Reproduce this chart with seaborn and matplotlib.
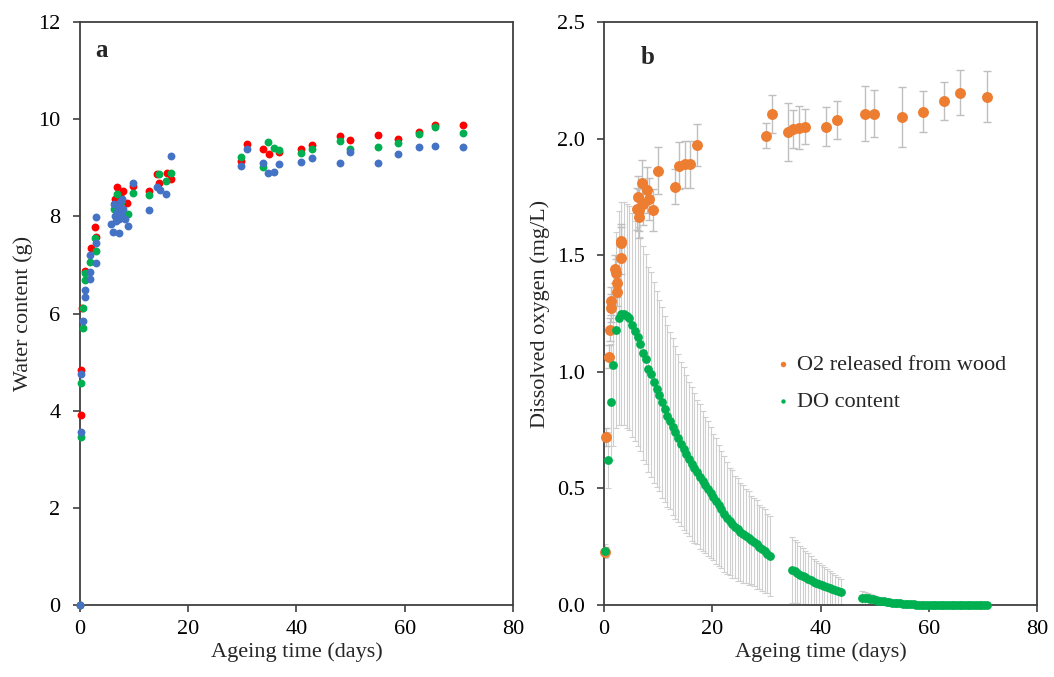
import matplotlib
matplotlib.use("Agg")
import matplotlib.pyplot as plt
import seaborn as sns
import pandas as pd

# ---------------- Panel a: water content (g) ----------------
red_days = [0, 0.2, 0.2, 0.4, 0.9, 2.0, 2.8, 3.0, 6.8, 7.9, 8.7, 6.5, 7.3, 9.8, 12.8, 14.2, 14.6,
            16.0, 16.8, 29.8, 30.8, 33.8, 35.0, 36.8, 40.8, 42.9, 48.0, 49.9, 55.0, 58.8, 62.7, 65.6, 70.8]
red_vals = [0, 4.83, 3.91, 6.11, 6.87, 7.35, 7.78, 7.57, 8.6, 8.52, 8.27, 8.35, 8.45, 8.62, 8.52, 8.87, 8.68,
            8.89, 8.77, 9.14, 9.5, 9.38, 9.28, 9.32, 9.38, 9.47, 9.65, 9.57, 9.67, 9.59, 9.73, 9.88, 9.88]

green_days = [0, 0.2, 0.2, 0.6, 0.6, 0.9, 0.9, 1.8, 2.8, 3.0, 6.8, 8.9, 6.2, 7.5, 9.8, 12.8, 14.6, 16.8,
              15.9, 29.8, 33.8, 34.8, 35.8, 36.8, 40.8, 42.9, 48.0, 49.9, 55.0, 58.8, 62.7, 65.6, 70.8]
green_vals = [0, 4.57, 3.46, 6.11, 5.7, 6.83, 6.69, 7.06, 7.55, 7.28, 8.47, 8.05, 8.15, 8.3, 8.48, 8.44, 8.87, 8.89,
              8.72, 9.22, 9.01, 9.53, 9.4, 9.36, 9.3, 9.38, 9.55, 9.38, 9.42, 9.52, 9.69, 9.84, 9.71]

blue_days = [0, 0.2, 0.2, 0.6, 1.0, 0.9, 1.8, 1.8, 1.8, 3.0, 3.0, 3.0, 5.7, 6.1, 6.5, 6.8, 7.0, 7.2, 7.4,
             7.6, 8.0, 8.3, 8.8, 6.3, 7.8, 6.6, 7.2, 9.8, 12.8, 14.2, 14.8, 15.9, 16.8, 29.8, 30.8, 33.8,
             34.8, 35.8, 36.8, 40.8, 42.9, 48.0, 49.9, 55.0, 58.8, 62.7, 65.6, 70.8]
blue_vals = [0, 4.75, 3.56, 5.84, 6.48, 6.34, 6.85, 6.72, 7.2, 7.45, 7.98, 7.04, 7.84, 7.67, 8.0, 8.1, 8.2, 7.65, 8.3,
             8.05, 8.15, 7.95, 7.8, 8.25, 8.35, 7.9, 7.95, 8.68, 8.13, 8.6, 8.54, 8.46, 9.24, 9.03, 9.38, 9.1,
             8.89, 8.91, 9.07, 9.12, 9.2, 9.1, 9.32, 9.1, 9.28, 9.42, 9.44, 9.42]

# ---------------- Panel b: O2 released from wood ----------------
o2_days = [0.2, 0.4, 0.9, 1.1, 1.3, 1.3, 2.0, 2.3, 2.4, 2.4, 3.1, 3.1, 3.1, 6.1, 6.3, 6.5, 6.5, 7.0, 7.2, 7.9,
           8.3, 9.0, 10.0, 13.1, 13.9, 15.0, 15.8, 17.1, 29.9, 31.0, 34.0, 35.0, 36.0, 37.2, 41.0, 43.0,
           48.2, 49.9, 55.1, 58.9, 62.8, 65.8, 70.8]
o2_vals = [0.227, 0.72, 1.065, 1.18, 1.305, 1.274, 1.442, 1.425, 1.382, 1.343, 1.49, 1.553, 1.562, 1.70, 1.75,
           1.665, 1.695, 1.81, 1.72, 1.78, 1.74, 1.695, 1.863, 1.794, 1.884, 1.89, 1.89, 1.974, 2.013, 2.107,
           2.03, 2.043, 2.047, 2.052, 2.052, 2.08, 2.107, 2.107, 2.094, 2.116, 2.163, 2.197, 2.18]
o2_err = [0.02, 0.04, 0.05, 0.05, 0.06, 0.06, 0.06, 0.06, 0.06, 0.06, 0.07, 0.07, 0.07, 0.09, 0.09, 0.09, 0.09,
          0.1, 0.09, 0.1, 0.09, 0.09, 0.1, 0.075, 0.1, 0.1, 0.1, 0.09, 0.054, 0.082, 0.124, 0.082, 0.093, 0.074,
          0.084, 0.082, 0.117, 0.1, 0.129, 0.087, 0.082, 0.097, 0.11]

# ---------------- Panel b: DO content ----------------
do_days = [0.2, 0.7, 1.2, 1.7, 2.2, 2.7, 3.2, 3.7, 4.2, 4.7, 5.2, 5.7, 6.2, 6.7, 7.2, 7.7, 8.2, 8.7, 9.2, 9.7,
           10.2, 10.7, 11.2, 11.7, 12.2, 12.7, 13.2, 13.7, 14.2, 14.7, 15.2, 15.7, 16.2, 16.7, 17.2, 17.7, 18.2,
           18.7, 19.2, 19.7, 20.2, 20.7, 21.2, 21.7, 22.2, 22.7, 23.2, 23.7, 24.2, 24.7, 25.2, 25.7, 26.2, 26.7,
           27.2, 27.7, 28.2, 28.7, 29.2, 29.7, 30.2, 30.7,
           34.7, 35.2, 35.7, 36.2, 36.7, 37.2, 37.7, 38.2, 38.7, 39.2, 39.7, 40.2, 40.7, 41.2, 41.7, 42.2, 42.7,
           43.2, 43.7,
           47.7, 48.2, 48.7, 49.2, 49.7, 50.2, 50.7, 51.2, 51.7, 52.2, 52.7, 53.2, 53.7, 54.2, 54.7, 55.2, 55.7,
           56.2, 56.7, 57.2, 57.7, 58.2, 58.7, 59.2, 59.7, 60.2, 60.7, 61.2, 61.7, 62.2, 62.7, 63.2, 63.7, 64.2,
           64.7, 65.2, 65.7, 66.2, 66.7, 67.2, 67.7, 68.2, 68.7, 69.2, 69.7, 70.2, 70.7]
do_vals = [0.23, 0.62, 0.87, 1.03, 1.18, 1.23, 1.25, 1.25, 1.24, 1.23, 1.20, 1.175, 1.15, 1.12, 1.08, 1.055,
           1.01, 0.99, 0.955, 0.925, 0.90, 0.87, 0.84, 0.81, 0.79, 0.765, 0.74, 0.715, 0.69, 0.67, 0.648, 0.625,
           0.603, 0.587, 0.571, 0.55, 0.53, 0.515, 0.498, 0.482, 0.463, 0.445, 0.428, 0.41, 0.39, 0.373, 0.358,
           0.347, 0.335, 0.324, 0.314, 0.305, 0.296, 0.287, 0.278, 0.27, 0.26, 0.25, 0.24, 0.23, 0.22, 0.21,
           0.15, 0.145, 0.138, 0.13, 0.124, 0.118, 0.111, 0.105, 0.099, 0.094, 0.089, 0.085, 0.081, 0.077, 0.072,
           0.068, 0.064, 0.06, 0.056,
           0.032, 0.030, 0.028, 0.026, 0.024, 0.022, 0.019, 0.017, 0.015, 0.013, 0.012, 0.010, 0.009, 0.008,
           0.007, 0.006, 0.005, 0.004, 0.003, 0.003, 0.002, 0.002, 0.002, 0.001, 0.001, 0.001, 0.001, 0.001,
           0.001, 0.001, 0.001, 0.001, 0.001, 0.001, 0.001, 0.001, 0.001, 0.001, 0.001, 0.001, 0.001, 0.001,
           0.001, 0.001, 0.001, 0.001, 0.001]
do_err = [0.03, 0.12, 0.25, 0.35, 0.42, 0.46, 0.48, 0.48, 0.48, 0.48, 0.48, 0.47, 0.47, 0.46, 0.46, 0.45,
          0.44, 0.44, 0.43, 0.42, 0.41, 0.41, 0.40, 0.39, 0.38, 0.38, 0.37, 0.36, 0.35, 0.35, 0.34, 0.33,
          0.33, 0.32, 0.31, 0.31, 0.30, 0.29, 0.29, 0.28, 0.27, 0.27, 0.26, 0.25, 0.25, 0.24, 0.23, 0.23,
          0.22, 0.22, 0.21, 0.21, 0.20, 0.20, 0.19, 0.19, 0.19, 0.18, 0.18, 0.18, 0.17, 0.17,
          0.14, 0.135, 0.13, 0.125, 0.12, 0.115, 0.11, 0.105, 0.1, 0.095, 0.09, 0.085, 0.08, 0.076, 0.072,
          0.068, 0.064, 0.06, 0.056,
          0.026, 0.024, 0.022, 0.02, 0.018, 0.016, 0.014, 0.012, 0.011, 0.01, 0.009, 0.008, 0.007, 0.006,
          0.005, 0.005, 0.004, 0.004, 0.003, 0.003, 0.002, 0.002, 0.002, 0.002, 0.002, 0.002, 0.002, 0.002,
          0.002, 0.002, 0.002, 0.002, 0.002, 0.002, 0.002, 0.002, 0.002, 0.002, 0.002, 0.002, 0.002, 0.002,
          0.002, 0.002, 0.002, 0.002, 0.002]

x_ticks = [0, 20, 40, 60, 80]
ya_ticks = [0, 2, 4, 6, 8, 10, 12]
yb_ticks = [0.0, 0.5, 1.0, 1.5, 2.0, 2.5]

C_RED, C_GREEN, C_BLUE = "#FF0000", "#00B050", "#4472C4"
C_ORANGE, C_DO = "#ED7D31", "#00B050"
C_ERR_DO = "#CFCFCF"
C_ERR_O2 = "#BFBFBF"
SPINE = "#404040"
FS = 16

sns.set_style("white")
plt.rcParams["font.family"] = ["Liberation Serif", "DejaVu Serif"]

fig = plt.figure(figsize=(10.54, 6.77), dpi=100)
ax_a = fig.add_axes([0.0759, 0.1064, 0.4108, 0.861])
ax_b = fig.add_axes([0.5731, 0.1064, 0.4108, 0.861])

# Panel a
for days, vals, col in [(red_days, red_vals, C_RED), (green_days, green_vals, C_GREEN), (blue_days, blue_vals, C_BLUE)]:
    df = pd.DataFrame({"day": days, "val": vals})
    sns.scatterplot(data=df, x="day", y="val", ax=ax_a, color=col, s=32, linewidth=0, legend=False,
                    clip_on=False, zorder=3)

ax_a.set_xlim(0, 80)
ax_a.set_ylim(0, 12)
ax_a.set_xticks(x_ticks)
ax_a.set_yticks(ya_ticks)
ax_a.set_xticklabels([str(v) for v in x_ticks])
ax_a.set_yticklabels([str(v) for v in ya_ticks])
ax_a.set_xlabel("Ageing time (days)", fontsize=FS, labelpad=2)
ax_a.set_ylabel("Water content (g)", fontsize=FS, labelpad=4)
ax_a.text(0.05, 0.952, "a", transform=ax_a.transAxes, fontsize=18, fontweight="bold", ha="center", va="center")

# Panel b
df_do = pd.DataFrame({"day": do_days, "val": do_vals, "err": do_err})
df_o2 = pd.DataFrame({"day": o2_days, "val": o2_vals, "err": o2_err})
ax_b.errorbar(df_do["day"], df_do["val"], yerr=df_do["err"], fmt="none", ecolor=C_ERR_DO, elinewidth=0.8,
              capsize=2.5, capthick=0.8, zorder=1)
ax_b.errorbar(df_o2["day"], df_o2["val"], yerr=df_o2["err"], fmt="none", ecolor=C_ERR_O2, elinewidth=1.0,
              capsize=3, capthick=1.0, zorder=2)
sns.scatterplot(data=df_o2, x="day", y="val", ax=ax_b, color=C_ORANGE, s=62, linewidth=0,
                label="O2 released from wood", clip_on=False, zorder=3)
sns.scatterplot(data=df_do, x="day", y="val", ax=ax_b, color=C_DO, s=40, linewidth=0,
                label="DO content", clip_on=False, zorder=4)

ax_b.set_xlim(0, 80)
ax_b.set_ylim(0, 2.5)
ax_b.set_xticks(x_ticks)
ax_b.set_yticks(yb_ticks)
ax_b.set_xticklabels([str(v) for v in x_ticks])
ax_b.set_yticklabels([f"{v:.1f}" for v in yb_ticks])
ax_b.set_xlabel("Ageing time (days)", fontsize=FS, labelpad=2)
ax_b.set_ylabel("Dissolved oxygen (mg/L)", fontsize=FS, labelpad=5)
ax_b.text(0.1, 0.94, "b", transform=ax_b.transAxes, fontsize=18, fontweight="bold", ha="center", va="center")

leg = ax_b.legend(loc="upper left", bbox_to_anchor=(0.368, 0.445), frameon=False, fontsize=FS,
                  markerscale=0.5, handletextpad=0.1, handlelength=1.0, labelspacing=0.72, borderaxespad=0)

for ax in (ax_a, ax_b):
    for sp in ax.spines.values():
        sp.set_visible(True)
        sp.set_color(SPINE)
        sp.set_linewidth(1.3)
    ax.tick_params(axis="both", direction="out", length=5, width=1.2, color=SPINE, labelsize=FS,
                   labelcolor="#000000", top=False, right=False, bottom=True, left=True)
    ax.tick_params(axis="x", pad=6)
    ax.tick_params(axis="y", pad=9)

fig.savefig("out.png", dpi=100, facecolor="white")
